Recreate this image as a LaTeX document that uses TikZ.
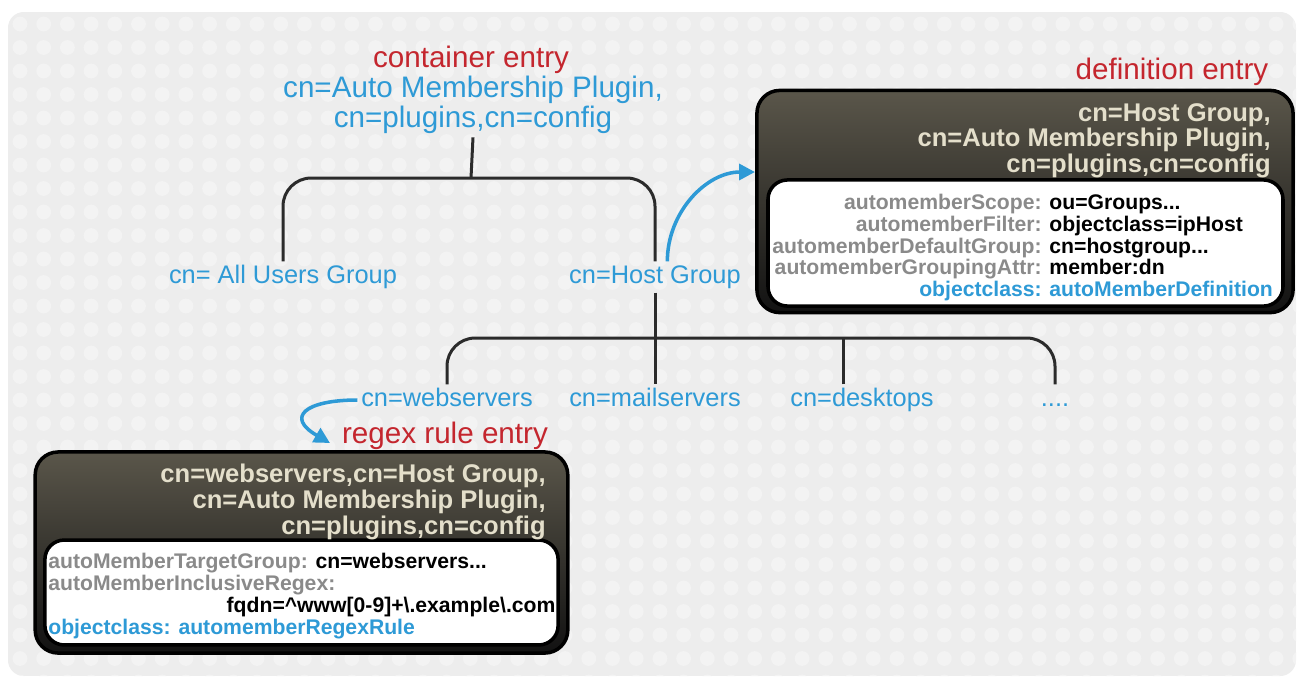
\documentclass[tikz,border=0pt]{standalone}
\usepackage{fontspec}
\setmainfont{Liberation Sans}
\usetikzlibrary{arrows.meta}

\definecolor{ldapblue}{HTML}{2E9AD6}
\definecolor{tagred}{HTML}{C4262E}
\definecolor{treeline}{HTML}{2B2B2B}
\definecolor{boxtop}{HTML}{5A564A}
\definecolor{boxbot}{HTML}{121212}
\definecolor{headtext}{HTML}{E4DFCB}
\definecolor{attrgray}{HTML}{8A8A8A}
\definecolor{panelgray}{HTML}{EDEDED}
\definecolor{paneldot}{HTML}{F3F3F3}

\newcommand{\attrname}[1]{\textcolor{attrgray}{#1}}

\tikzset{
  entrylabel/.style={text=tagred, font=\fontsize{16.8}{18}\selectfont},
  rootdn/.style={text=ldapblue, font=\fontsize{16.8}{14.7}\selectfont, align=flush center, inner sep=2pt},
  leaf/.style={text=ldapblue, font=\fontsize{14.4}{16}\selectfont, inner sep=2pt, text height=10.4pt, text depth=3pt},
  branch/.style={draw=treeline, line width=1.7pt, rounded corners=16pt},
  flow/.style={draw=ldapblue, line width=2pt, -{Triangle[length=9pt,width=9pt]}},
  darkbox/.style={rounded corners=13pt, draw=black, line width=2pt, top color=boxtop, bottom color=boxbot, inner sep=0pt},
  whitebox/.style={rounded corners=11pt, draw=black, line width=2pt, fill=white, inner sep=0pt},
  dnhead/.style={text=headtext, font=\bfseries\fontsize{14.5}{13.3}\selectfont, align=flush right, inner sep=0pt},
  attrs/.style={font=\bfseries\fontsize{12}{12}\selectfont, inner sep=0pt},
}

\begin{document}
\begin{tikzpicture}[x=0.567pt, y=-0.567pt]
  \fill[white] (0,0) rectangle (1298,681);
  \useasboundingbox (0,0) rectangle (1298,681);
  % dotted backdrop
  \begin{scope}
    \clip[rounded corners=9pt] (8,12) rectangle (1296,676);
    \fill[panelgray] (8,12) rectangle (1296,676);
    \foreach \i in {0,...,54} {
      \foreach \j in {0,...,28} {
        \fill[paneldot] (20+23.7*\i,24+23.5*\j) circle (4.2pt);
      }
    }
  \end{scope}

  % tree
  \node[entrylabel] (contlbl) at (471,60) {container entry};
  \node[rootdn] (root) at (473,105) {cn=Auto Membership Plugin,\\cn=plugins,cn=config};
  \node[leaf] (allusers) at (283,277) {cn= All Users Group};
  \node[leaf] (hostgrp) at (655,277) {cn=Host Group};
  \node[leaf] (websrv) at (447,400) {cn=webservers};
  \node[leaf] (mailsrv) at (655,400) {cn=mailservers};
  \node[leaf] (desktops) at (862,400) {cn=desktops};
  \node[leaf] (more) at (1055,400) {....};
  \coordinate (bar1) at (471,178);
  \coordinate (bar2) at (655,338);
  \coordinate (deskjoin) at (843,338);

  \draw[branch] (root.south) -- (bar1);
  \draw[branch] (allusers.north) |- (bar1) -| (hostgrp.north);
  \draw[branch] (hostgrp.south) -- (mailsrv.north);
  \draw[branch] (websrv.north) |- (bar2) -| (more.north);
  \draw[branch] (desktops.north -| deskjoin) -- (deskjoin);

  % definition entry
  \node[entrylabel] (deflbl) at (1172,72) {definition entry};
  \node[darkbox, minimum width=304pt, minimum height=126pt] (defbox) at (1025,201.5) {};
  \node[whitebox, minimum width=292pt, minimum height=71.5pt] (defpanel) at (1025.5,243) {};
  \node[dnhead, anchor=north east] (defdn) at (1271,103) {cn=Host Group,\\cn=Auto Membership Plugin,\\cn=plugins,cn=config};
  \node[attrs, anchor=north west] (defattrs) at (772,194) {\begin{tabular}{@{}r@{ }l@{}}
    \attrname{automemberScope:} & ou=Groups...\\
    \attrname{automemberFilter:} & objectclass=ipHost\\
    \attrname{automemberDefaultGroup:} & cn=hostgroup...\\
    \attrname{automemberGroupingAttr:} & member:dn\\
    \textcolor{ldapblue}{objectclass:} & \textcolor{ldapblue}{autoMemberDefinition}
  \end{tabular}};
  \coordinate (defin) at (755,172);
  \draw[flow] ([xshift=7pt]hostgrp.north) to[out=90,in=180] (defin);

  % regex rule entry
  \node[entrylabel] (reglbl) at (445,436) {regex rule entry};
  \node[darkbox, minimum width=302pt, minimum height=114pt] (regbox) at (301.5,552.5) {};
  \node[whitebox, minimum width=291pt, minimum height=59.5pt] (regpanel) at (301.5,592.5) {};
  \node[dnhead, anchor=north east] (regdn) at (546,464) {cn=webservers,cn=Host Group,\\cn=Auto Membership Plugin,\\cn=plugins,cn=config};
  \node[attrs, font=\bfseries\fontsize{12}{12.5}\selectfont, text width=287.5pt, align=flush left, anchor=north west] (regattrs) at (48,553) {\attrname{autoMemberTargetGroup:} cn=webservers...\\
    \attrname{autoMemberInclusiveRegex:}\\
    \mbox{}\hfill fqdn=\textasciicircum www[0-9]+\textbackslash.example\textbackslash.com\\
    \textcolor{ldapblue}{objectclass: automemberRegexRule}};
  \coordinate (regin) at (330,443);
  \draw[flow] (websrv.west) to[out=180,in=150,looseness=2.6] (regin);
\end{tikzpicture}
\end{document}
